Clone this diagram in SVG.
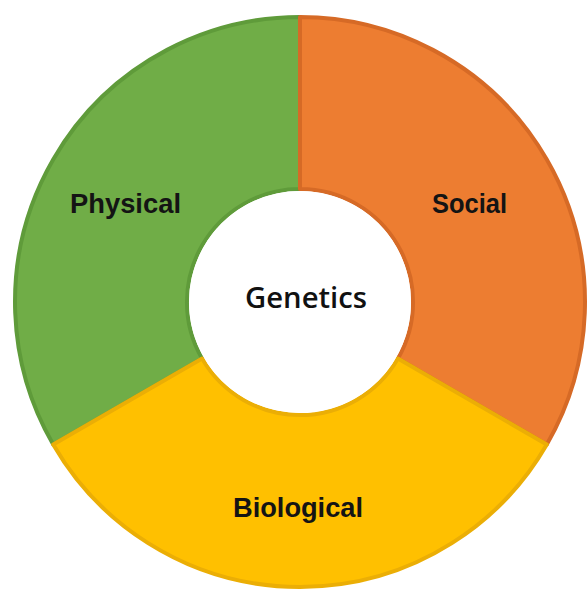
<svg xmlns="http://www.w3.org/2000/svg" width="588" height="595" viewBox="0 0 588 595">
<style>
.seg{stroke-width:4;stroke-linejoin:round}
.lbl{font-family:"Liberation Sans","Open Sans",Arial,sans-serif;font-weight:bold;font-size:27px;fill:#141414;text-anchor:middle}
.ctr{font-family:"Open Sans","Liberation Sans",Arial,sans-serif;font-weight:600;font-size:28px;fill:#111;text-anchor:middle}
</style>
<rect width="588" height="595" fill="#ffffff"/>
<g id="physical">
<path class="seg" d="M300,17 A285,285 0 0 0 53.2,444.5 L202.1,358.5 A113,113 0 0 1 300,189 Z" fill="#70AD47" stroke="#5F9B3A"/>
<text class="lbl" x="125.5" y="213" textLength="111" lengthAdjust="spacingAndGlyphs">Physical</text>
</g>
<g id="social">
<path class="seg" d="M300,17 A285,285 0 0 1 546.8,444.5 L397.9,358.5 A113,113 0 0 0 300,189 Z" fill="#ED7D31" stroke="#D66A26"/>
<text class="lbl" x="469.5" y="213" textLength="75" lengthAdjust="spacingAndGlyphs">Social</text>
</g>
<g id="biological">
<path class="seg" d="M53.2,444.5 A285,285 0 0 0 546.8,444.5 L397.9,358.5 A113,113 0 0 1 202.1,358.5 Z" fill="#FFC000" stroke="#EBAE05"/>
<text class="lbl" x="298" y="517" textLength="130" lengthAdjust="spacingAndGlyphs">Biological</text>
</g>
<g id="genetics">
<circle cx="300" cy="302" r="111" fill="#ffffff"/>
<text class="ctr" x="306" y="308" textLength="122" lengthAdjust="spacingAndGlyphs">Genetics</text>
</g>
<g id="connectors"></g>
</svg>
